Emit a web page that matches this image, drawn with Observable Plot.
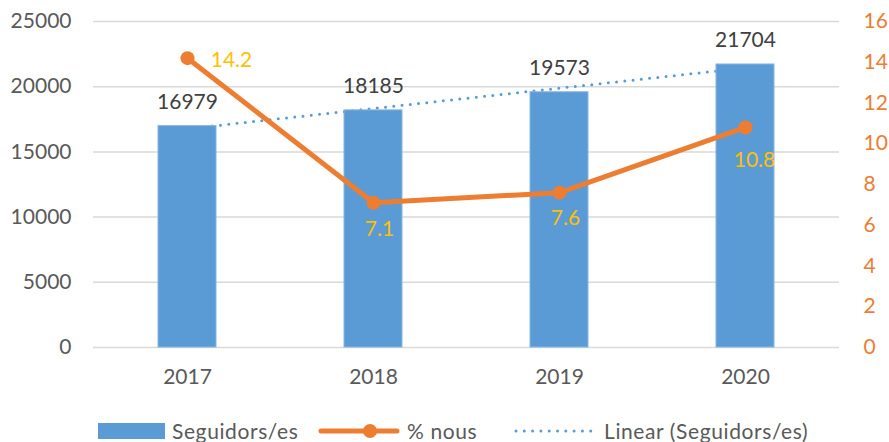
<!DOCTYPE html>
<html>
<head>
<meta charset="utf-8">
<script src="https://cdn.jsdelivr.net/npm/d3@7"></script>
<script src="https://cdn.jsdelivr.net/npm/@observablehq/plot@0.6"></script>
<style>
  html, body { margin: 0; padding: 0; background: #fff; }
  body { width: 889px; height: 442px; overflow: hidden; font-family: Lato, "Open Sans", sans-serif; }
  #legend { position: relative; height: 47px; }
  .item { position: absolute; top: 23px; display: flex; align-items: center; font-size: 21px; color: #595959; letter-spacing: 0.6px; }
  .item svg { margin-right: 7px; }
</style>
</head>
<body>
<div id="chart"></div>
<div id="legend"></div>
<script>
const years = ["2017", "2018", "2019", "2020"];
const followers = [16979, 18185, 19573, 21704];
const pctNew = [14.2, 7.1, 7.6, 10.8];
const leftTicks = [0, 5000, 10000, 15000, 20000, 25000];
const rightTicks = [0, 2, 4, 6, 8, 10, 12, 14, 16];
const legendLabels = ["Seguidors/es", "% nous", "Linear (Seguidors/es)"];

const yMax = 25000, y2Max = 16;
const k = yMax / y2Max;

// linear trend of followers (least squares over category index)
const xs = followers.map((_, i) => i + 1);
const mx = d3.mean(xs), my = d3.mean(followers);
const slope = d3.sum(xs.map((x, i) => (x - mx) * (followers[i] - my))) / d3.sum(xs.map(x => (x - mx) ** 2));
const trend = xs.map(x => my + slope * (x - mx));

const data = years.map((y, i) => ({year: y, f: followers[i], p: pctNew[i], pk: pctNew[i] * k, t: trend[i], i}));

const blue = "#5B9BD5", orange = "#ED7D31", gold = "#FFC000";
const font = "Lato, 'Open Sans', sans-serif";
const fs = 21;

const chart = Plot.plot({
  width: 889,
  height: 395,
  marginLeft: 93,
  marginRight: 50,
  marginTop: 21,
  marginBottom: 48,
  style: {fontFamily: font, fontSize: fs + "px", background: "#fff"},
  x: {domain: years, paddingInner: 0.69, paddingOuter: 0.345, axis: null},
  y: {domain: [0, yMax], axis: null},
  marks: [
    Plot.ruleY(leftTicks, {stroke: "#D9D9D9", strokeWidth: 1.5}),
    Plot.line(data, {x: "year", y: "t", stroke: blue, strokeWidth: 3, strokeDasharray: "0,8.3", strokeLinecap: "round"}),
    Plot.barY(data, {x: "year", y: "f", fill: blue, stroke: "#86B6E3", strokeWidth: 1}),
    Plot.line(data, {x: "year", y: "pk", stroke: orange, strokeWidth: 5, strokeLinejoin: "round"}),
    Plot.dot(data, {x: "year", y: "pk", r: 7, fill: orange, stroke: "none"}),
    Plot.text(data, {x: "year", y: "f", text: d => String(d.f), dy: -24, fill: "#404040", fontSize: fs}),
    Plot.text(data.filter(d => d.i === 0), {x: "year", y: "pk", text: d => d.p.toFixed(1), dx: 44, dy: 2, fill: gold, fontSize: fs}),
    Plot.text(data.filter(d => d.i === 1 || d.i === 2), {x: "year", y: "pk", text: d => d.p.toFixed(1), dx: 6, dy: 26, fill: gold, fontSize: fs}),
    Plot.text(data.filter(d => d.i === 3), {x: "year", y: "pk", text: d => d.p.toFixed(1), dx: 9, dy: 33, fill: gold, fontSize: fs}),
    Plot.axisY(leftTicks, {anchor: "left", tickSize: 0, tickPadding: 22, fill: "#595959", fontSize: fs, label: null, tickFormat: d => String(d)}),
    Plot.axisY(rightTicks.map(v => v * k), {anchor: "right", tickSize: 0, tickPadding: 24, fill: orange, fontSize: fs, label: null, tickFormat: d => String(Math.round(d / k))}),
    Plot.axisX({anchor: "bottom", tickSize: 0, tickPadding: 22, fill: "#595959", fontSize: fs, label: null})
  ]
});
document.getElementById("chart").appendChild(chart);

// legend
const legend = document.getElementById("legend");
const swatches = [
  `<svg width="67" height="16"><rect x="0" y="0" width="67" height="16" fill="${blue}"/></svg>`,
  `<svg width="82" height="16"><line x1="3" y1="8" x2="79" y2="8" stroke="${orange}" stroke-width="5" stroke-linecap="round"/><circle cx="52" cy="8" r="7" fill="${orange}"/></svg>`,
  `<svg width="83" height="16"><line x1="2" y1="8" x2="82" y2="8" stroke="${blue}" stroke-width="3" stroke-dasharray="0,8.3" stroke-linecap="round"/></svg>`
];
const lefts = [98, 318, 514];
legendLabels.forEach((lab, i) => {
  const el = document.createElement("div");
  el.className = "item";
  el.style.left = lefts[i] + "px";
  el.innerHTML = swatches[i] + `<span>${lab}</span>`;
  legend.appendChild(el);
});
</script>
</body>
</html>
